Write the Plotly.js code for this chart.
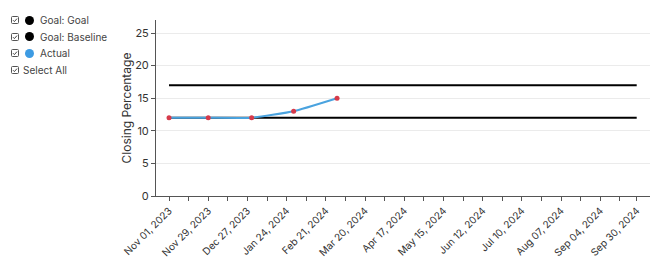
<!DOCTYPE html>
<html>
<head>
<meta charset="utf-8">
<script src="https://cdn.plot.ly/plotly-3.0.1.min.js"></script>
<style>
  html, body { margin: 0; padding: 0; background: #fff; }
  #wrap { position: relative; width: 670px; height: 264px; }
  #chart { position: absolute; left: 0; top: 0; width: 670px; height: 264px; }
  #legend { position: absolute; left: 11px; top: 12px; font-family: Inter, "Open Sans", sans-serif; font-size: 10px; color: #444; }
  .row { height: 16.6px; display: flex; align-items: center; }
  .row svg { display: block; }
  .dot { width: 9px; height: 9px; border-radius: 50%; margin-left: 6px; margin-right: 6px; }
  .lbl { white-space: nowrap; }
</style>
</head>
<body>
<div id="wrap">
  <div id="chart"></div>
  <div id="legend"></div>
</div>
<script>
// ---- data ----
const goalDates = ["2023-11-01", "2024-09-30"];
const goalValues = [17, 17];
const baselineDates = ["2023-11-01", "2024-09-30"];
const baselineValues = [12, 12];
const actualDates = ["2023-11-01", "2023-11-29", "2023-12-30", "2024-01-29", "2024-02-29"];
const actualValues = [12, 12, 12, 13, 15];

const tickDates = ["2023-11-01", "2023-11-15", "2023-11-29", "2023-12-13", "2023-12-27", "2024-01-10",
  "2024-01-24", "2024-02-07", "2024-02-21", "2024-03-06", "2024-03-20", "2024-04-03", "2024-04-17",
  "2024-05-01", "2024-05-15", "2024-05-29", "2024-06-12", "2024-06-26", "2024-07-10", "2024-07-24",
  "2024-08-07", "2024-08-21", "2024-09-04", "2024-09-18", "2024-09-30"];
const tickLabels = ["Nov 01, 2023", "", "Nov 29, 2023", "", "Dec 27, 2023", "",
  "Jan 24, 2024", "", "Feb 21, 2024", "", "Mar 20, 2024", "", "Apr 17, 2024",
  "", "May 15, 2024", "", "Jun 12, 2024", "", "Jul 10, 2024", "",
  "Aug 07, 2024", "", "Sep 04, 2024", "", "Sep 30, 2024"];
const yTicks = [0, 5, 10, 15, 20, 25];

const legendItems = [
  { name: "Goal: Goal", color: "#000000" },
  { name: "Goal: Baseline", color: "#000000" },
  { name: "Actual", color: "#3d9be3" }
];

// ---- chart ----
const FONT = 'Inter, "Open Sans", sans-serif';
const traces = [
  { x: goalDates, y: goalValues, type: "scatter", mode: "lines", name: "Goal: Goal",
    line: { color: "#000000", width: 2 }, hoverinfo: "skip" },
  { x: baselineDates, y: baselineValues, type: "scatter", mode: "lines", name: "Goal: Baseline",
    line: { color: "#000000", width: 2 }, hoverinfo: "skip" },
  { x: actualDates, y: actualValues, type: "scatter", mode: "lines+markers", name: "Actual",
    line: { color: "#4aa3df", width: 2, shape: "spline", smoothing: 0.4 },
    marker: { color: "#d63a4a", size: 5 } }
];

const layout = {
  width: 670, height: 264,
  margin: { l: 156, r: 20, t: 20, b: 68 },
  showlegend: false,
  paper_bgcolor: "#fff", plot_bgcolor: "#fff",
  font: { family: FONT, size: 11, color: "#333" },
  xaxis: {
    type: "date",
    range: ["2023-10-22 17:00", "2024-10-09 12:00"],
    tickmode: "array", tickvals: tickDates, ticktext: tickLabels,
    tickangle: -45, ticks: "outside", ticklen: 4, tickcolor: "#555",
    showgrid: false, zeroline: false,
    showline: true, linecolor: "#555", linewidth: 1,
    tickfont: { family: FONT, size: 10, color: "#333" }
  },
  yaxis: {
    range: [0, 27],
    tickmode: "array", tickvals: yTicks,
    ticks: "outside", ticklen: 4, tickcolor: "#555",
    showgrid: true, gridcolor: "#ebebeb", zeroline: false,
    showline: true, linecolor: "#555", linewidth: 1,
    tickfont: { family: FONT, size: 11, color: "#333" },
    title: { text: "Closing Percentage", font: { family: FONT, size: 12, color: "#333" }, standoff: 0 }
  }
};

Plotly.newPlot("chart", traces, layout, { displayModeBar: false, staticPlot: true });

// ---- legend ----
const check = '<svg width="8" height="8" viewBox="0 0 8 8"><rect x="0.5" y="0.5" width="7" height="7" rx="1" fill="#fff" stroke="#555" stroke-width="1"/><path d="M2 4.2 L3.4 5.6 L6 2.6" fill="none" stroke="#444" stroke-width="1"/></svg>';
const leg = document.getElementById("legend");
legendItems.forEach(it => {
  const r = document.createElement("div");
  r.className = "row";
  r.innerHTML = check + '<span class="dot" style="background:' + it.color + '"></span><span class="lbl">' + it.name + '</span>';
  leg.appendChild(r);
});
const sa = document.createElement("div");
sa.className = "row";
sa.innerHTML = check + '<span class="lbl" style="margin-left:4px">Select All</span>';
leg.appendChild(sa);
</script>
</body>
</html>
